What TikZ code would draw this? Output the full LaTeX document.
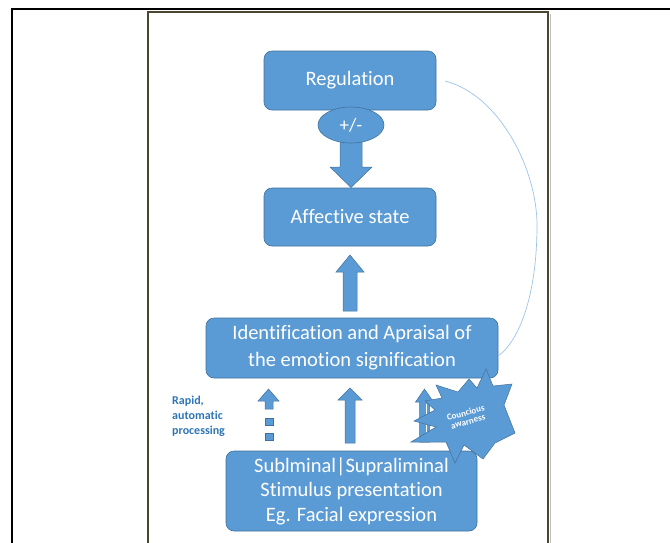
\documentclass[tikz,border=0pt]{standalone}
\usepackage{fontspec}
\setmainfont{Carlito}[Ligatures={NoCommon}]
\usetikzlibrary{shapes.geometric}
\definecolor{boxfill}{HTML}{5B9BD5}
\definecolor{boxedge}{HTML}{41719C}
\definecolor{curvecol}{HTML}{9DC3E6}
\definecolor{frameol}{HTML}{4B4630}
\definecolor{labelblue}{HTML}{2E75B6}
\begin{document}
\begin{tikzpicture}[x=1pt,y=-1pt,
  box/.style={rectangle, rounded corners=8pt, fill=boxfill, draw=boxedge, line width=0.6pt,
    text=white, font=\fontsize{20.5}{27}\selectfont, align=center, inner sep=0pt},
  blockarrow/.style={fill=boxfill, draw=boxedge, line width=0.5pt, line join=miter}]
\useasboundingbox (0,0) rectangle (670,542);
% frames
\draw[line width=2.5pt] (12,9) rectangle (720,600);
\draw[black!25, line width=1pt] (550,14) -- (550,600);
\draw[frameol, line width=2pt] (148,12) rectangle (548,600);

% boxes
\node[box, minimum width=172pt, minimum height=59pt] (reg) at (350,80.5) {Regulation};
\node[box, minimum width=172pt, minimum height=58pt] (aff) at (350,217) {Affective state};
\node[box, minimum width=292pt, minimum height=60pt] (ident) at (352,348) {Identification and Apraisal of\\the emotion signification};
\node[box, minimum width=251pt, minimum height=80pt, font=\fontsize{20.5}{24.5}\selectfont] (stim) at (351.5,491) {Sublminal|Supraliminal\\Stimulus presentation\\Eg. Facial expression};

% down arrow regulation -> affective
\draw[blockarrow] (340,135) -- (362,135) -- (362,167) -- (372,167) -- (351,187.5) -- (330,167) -- (340,167) -- cycle;
\node[ellipse, fill=boxfill, draw=boxedge, line width=0.6pt, minimum width=66pt, minimum height=36pt,
  inner sep=0pt, text=white, font=\fontsize{19}{22}\selectfont] (pm) at (351,125) {+/-};

% up arrow affective <- identification
\draw[blockarrow] (343,311) -- (357,311) -- (357,272) -- (364,272) -- (350,255) -- (336,272) -- (343,272) -- cycle;

% middle up arrow stimulus -> identification
\draw[blockarrow] (345,443) -- (355,443) -- (355,400) -- (362,400) -- (350,388) -- (338,400) -- (345,400) -- cycle;

% left dashed arrow
\draw[blockarrow] (265,409) -- (273,409) -- (273,401) -- (279,401) -- (268.5,389) -- (258,401) -- (265,401) -- cycle;
\draw[blockarrow] (265,418) rectangle (273,425);
\draw[blockarrow] (265,433) rectangle (273,440);

% right arrow (partly behind star)
\draw[blockarrow] (419.5,442) -- (429.5,442) -- (429.5,402) -- (433.5,402) -- (424.5,389) -- (415.5,402) -- (419.5,402) -- cycle;
\draw[white, line width=0.8pt] (426,404) -- (426,442);

% star
\draw[blockarrow] (486,369) -- (493,386) -- (512,384) -- (504,405) -- (515,433) -- (495,443)
  -- (483,459) -- (464,445) -- (455,463) -- (446,442) -- (411,442) -- (436,427) -- (414,421)
  -- (435,410) -- (425,401) -- (442,398) -- (436,385) -- (458,392) -- (469,379) -- (477,388) -- cycle;
\node[text=white, font=\bfseries\fontsize{9}{11}\selectfont, inner sep=0pt] (star) at (467,418)
  {\rotatebox{15}{\begin{tabular}{@{}c@{}}Councious\\[-2pt]awarness\end{tabular}}};

% label
\node[anchor=west, align=left, text=labelblue, font=\bfseries\fontsize{12}{15}\selectfont, inner sep=0pt] (rapid) at (172,416) {Rapid,\\automatic\\processing};

% feedback curve
\coordinate (cstart) at (445,81);
\coordinate (cend) at (498,356);
\draw[curvecol, line width=0.7pt] (cstart) .. controls (500,95) and (537,170) .. (537,225)
  .. controls (537,300) and (517,343) .. (cend);
\end{tikzpicture}
\end{document}
